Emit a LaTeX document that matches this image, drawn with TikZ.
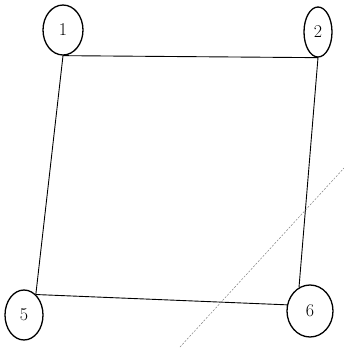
\documentclass[tikz,border=0pt]{standalone}
\usetikzlibrary{shapes.geometric}
\begin{document}
\begin{tikzpicture}[x=1pt,y=-1pt,
  vert/.style={draw, ellipse, line width=1.3pt, inner sep=0pt, font=\fontsize{18}{18}\selectfont},
  edge/.style={line width=0.9pt},
  faint/.style={gray, line width=0.5pt, dash pattern=on 2pt off 1.5pt}]
\useasboundingbox (0,0) rectangle (344,349);
\node[vert, minimum width=40, minimum height=50] (n1) at (63,30) {1};
\node[vert, minimum width=28, minimum height=50] (n2) at (318,32) {2};
\node[vert, minimum width=38, minimum height=50] (n5) at (24,315) {5};
\node[vert, minimum width=46, minimum height=52] (n6) at (310,311) {6};
\draw[edge] (n1.south) -- (n2.south);
\draw[edge] (n1.south) -- (n5.60);
\draw[edge] (n2.south) -- (n6.115);
\draw[edge] (n5.60) -- (n6.165);
\coordinate (d1) at (180,347);
\coordinate (d2) at (344,168);
\draw[faint] (d1) -- (d2);
\end{tikzpicture}
\end{document}
